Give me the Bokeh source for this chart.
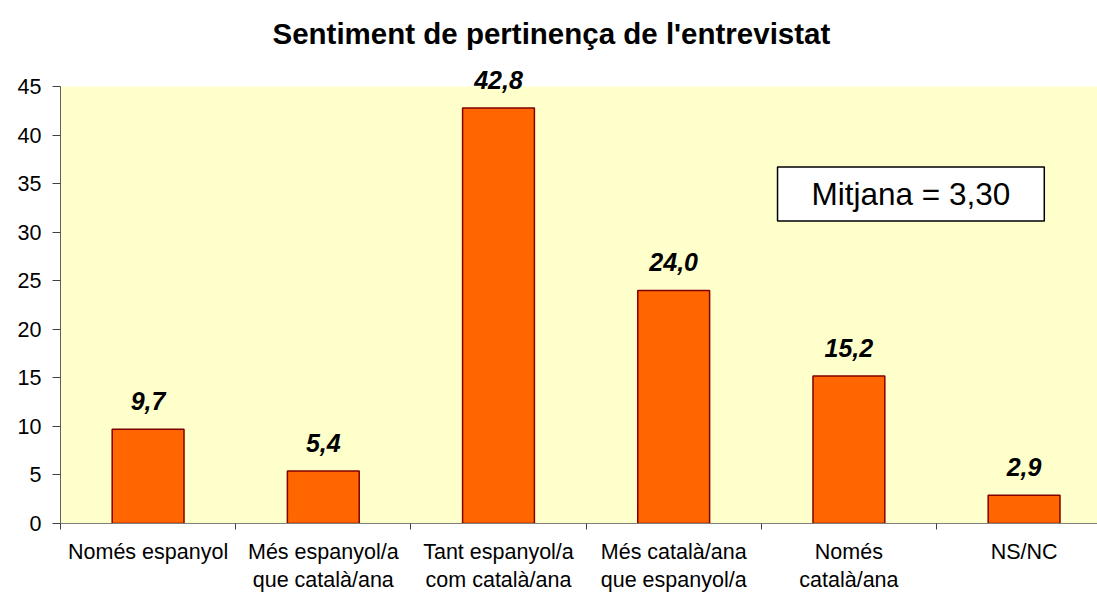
from bokeh.plotting import figure
from bokeh.models import ColumnDataSource, FixedTicker, LabelSet, Label, Range1d, BoxAnnotation
from bokeh.core.properties import value
from bokeh.embed import file_html
from bokeh.resources import INLINE

categories = ["Només espanyol", "Més espanyol/a\nque català/ana", "Tant espanyol/a\ncom català/ana",
              "Més català/ana\nque espanyol/a", "Només\ncatalà/ana", "NS/NC"]
values = [9.7, 5.4, 42.8, 24.0, 15.2, 2.9]
y_ticks = [0, 5, 10, 15, 20, 25, 30, 35, 40, 45]
title_text = "Sentiment de pertinença de l'entrevistat"
mean_text = "Mitjana = 3,30"

xs = list(range(len(categories)))
labels = [f"{v:.1f}".replace(".", ",") for v in values]
src = ColumnDataSource(dict(x=xs, top=values, label=labels))

FONT = "Liberation Sans"
YMAX = 45

p = figure(width=1097, height=595, output_backend="svg", toolbar_location=None,
           x_range=Range1d(-0.5, 5.419), y_range=Range1d(0, 53.86),
           min_border_left=60, min_border_right=0, min_border_top=0, min_border_bottom=72)
p.background_fill_color = "white"
p.border_fill_color = "white"
p.outline_line_color = None
p.grid.visible = False

# plot-area background (0..45)
p.add_layout(BoxAnnotation(bottom=0, top=YMAX, fill_color="#FFFFCC", fill_alpha=1,
                           line_color=None, level="underlay"))

p.vbar(x="x", top="top", width=0.41, bottom=0, source=src,
       fill_color="#FF6600", line_color="#800000", line_width=1.5)

# axes
p.yaxis.ticker = FixedTicker(ticks=y_ticks)
p.yaxis.bounds = (0, YMAX)
p.yaxis.major_tick_in = 0
p.yaxis.major_tick_out = 8
p.yaxis.minor_tick_line_color = None
p.yaxis.axis_line_color = "#606060"
p.yaxis.major_tick_line_color = "#404040"
p.yaxis.major_label_text_font = FONT
p.yaxis.major_label_text_font_size = "21.5px"
p.yaxis.major_label_text_color = "black"
p.yaxis.major_label_standoff = 11

p.xaxis.ticker = FixedTicker(ticks=xs, minor_ticks=[i - 0.5 for i in range(len(categories) + 1)])
p.xaxis.major_label_overrides = {i: c for i, c in enumerate(categories)}
p.xaxis.major_tick_line_color = None
p.xaxis.major_tick_in = 0
p.xaxis.major_tick_out = 0
p.xaxis.minor_tick_in = 0
p.xaxis.minor_tick_out = 6
p.xaxis.minor_tick_line_color = "#404040"
p.xaxis.axis_line_color = "#808080"
p.xaxis.major_label_text_font = FONT
p.xaxis.major_label_text_font_size = "21.5px"
p.xaxis.major_label_text_color = "black"
p.xaxis.major_label_standoff = 10
p.xaxis.major_label_text_line_height = 1.2

lbls = LabelSet(x="x", y="top", text="label", source=src, y_offset=19,
                text_align="center", text_baseline="alphabetic",
                text_font=value(FONT), text_font_size="25px",
                text_font_style="bold italic", text_color="black")
p.add_layout(lbls)

title = Label(x=2.302, y=50.46, text=title_text, text_align="center", text_baseline="middle",
              text_font=FONT, text_font_size="29.5px", text_font_style="bold",
              text_color="black")
p.add_layout(title)

mean = Label(x=4.354, y=33.93, text=mean_text, text_align="center", text_baseline="middle",
             text_font=FONT, text_font_size="31.5px", text_color="black",
             background_fill_color="white", border_line_color="black", border_line_width=1.5,
             padding=(34, 9))
p.add_layout(mean)

open("out.html", "w").write(file_html(p, INLINE))
